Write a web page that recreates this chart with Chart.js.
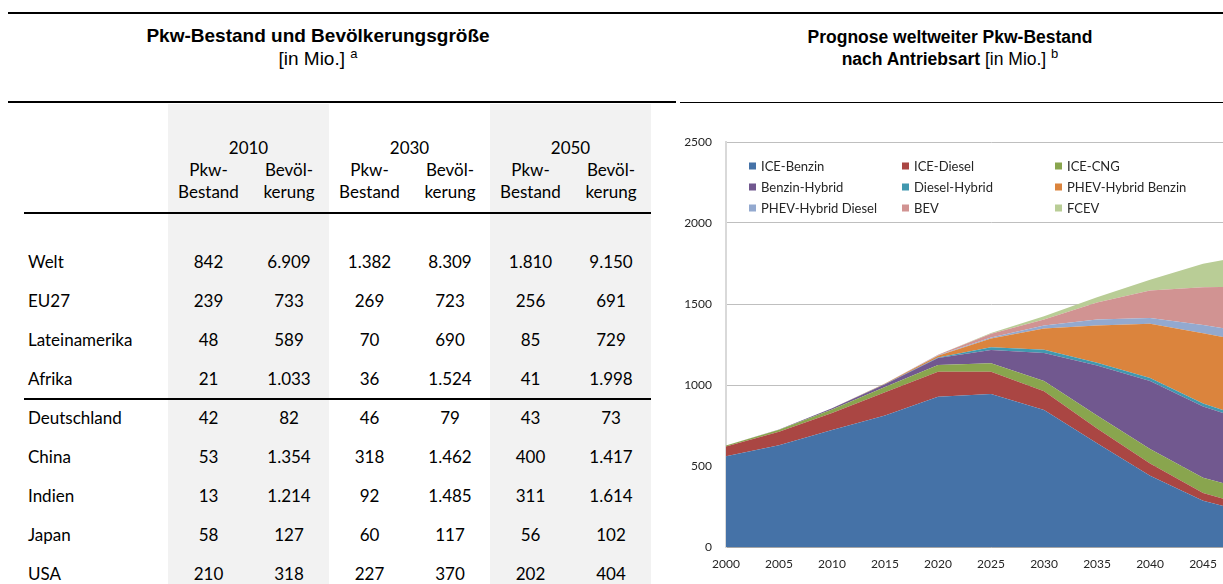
<!DOCTYPE html>
<html lang="de">
<head>
<meta charset="utf-8">
<title>Pkw-Bestand und Prognose nach Antriebsart</title>
<script src="https://cdn.jsdelivr.net/npm/chart.js@4.4.0/dist/chart.umd.min.js"></script>
<style>
  html, body { margin: 0; padding: 0; background: #fff; }
  body { width: 1223px; height: 584px; overflow: hidden; position: relative; font-family: Lato, sans-serif; color: #000; }
  .rule { position: absolute; background: #000; }
  .shade { position: absolute; background: #f2f2f2; }
  .title { position: absolute; font-family: "Liberation Sans", Arial, sans-serif; line-height: 23px; text-align: center; }
  .title sup { font-size: 13px; line-height: 0; vertical-align: 7px; }
  .cell { position: absolute; width: 81px; text-align: center; font-size: 17px; line-height: 22px; white-space: nowrap; }
  .label { position: absolute; font-size: 17px; line-height: 22px; white-space: nowrap; }
  #chartBox { position: absolute; left: 680px; top: 104px; width: 600px; height: 480px; }
</style>
</head>
<body>

<div class="rule" style="left:8px; top:12px; width:1215px; height:2px;"></div>
<div class="title" style="left:8px; top:24px; width:620px; font-size:19px;"><b>Pkw-Bestand und Bevölkerungsgröße</b><br>[in Mio.] <sup>a</sup></div>
<div class="title" style="left:680px; top:26px; width:540px; font-size:17.5px; line-height:22px;"><b>Prognose weltweiter Pkw-Bestand</b><br><b>nach Antriebsart</b> [in Mio.] <sup>b</sup></div>
<div class="rule" style="left:8px; top:101px; width:668px; height:2px;"></div>
<div class="rule" style="left:680px; top:102px; width:543px; height:1px;"></div>

<div id="table"></div>

<div id="chartBox"><canvas id="stockChart" width="600" height="480"></canvas></div>

<script>
// table: passenger cars and population per region
const tableYears = ["2010", "2030", "2050"];
const regions = ["Welt", "EU27", "Lateinamerika", "Afrika", "Deutschland", "China", "Indien", "Japan", "USA"];
const pkw2010 = ["842", "239", "48", "21", "42", "53", "13", "58", "210"];
const bev2010 = ["6.909", "733", "589", "1.033", "82", "1.354", "1.214", "127", "318"];
const pkw2030 = ["1.382", "269", "70", "36", "46", "318", "92", "60", "227"];
const bev2030 = ["8.309", "723", "690", "1.524", "79", "1.462", "1.485", "117", "370"];
const pkw2050 = ["1.810", "256", "85", "41", "43", "400", "311", "56", "202"];
const bev2050 = ["9.150", "691", "729", "1.998", "73", "1.417", "1.614", "102", "404"];

// chart: world car stock forecast by drive type
const years = ["2000", "2005", "2010", "2015", "2020", "2025", "2030", "2035", "2040", "2045", "2050"];
const iceBenzin = [560, 628, 722, 812, 928, 944, 845, 640, 440, 285, 200];
const iceDiesel = [60, 84, 105, 144, 154, 138, 117, 92, 75, 48, 40];
const iceCng = [6, 12, 22, 32, 42, 52, 63, 80, 90, 95, 100];
const benzinHybrid = [0, 2, 8, 16, 42, 82, 172, 308, 420, 440, 420];
const dieselHybrid = [0, 0, 0, 2, 4, 17, 21, 18, 18, 18, 18];
const phevBenzin = [0, 0, 0, 3, 11, 54, 130, 230, 335, 434, 480];
const phevDiesel = [0, 0, 0, 0, 2, 6, 20, 36, 35, 50, 60];
const bev = [0, 0, 0, 1, 3, 24, 36, 105, 170, 234, 290];
const fcev = [0, 0, 0, 0, 1, 4, 20, 32, 67, 144, 200];

const seriesNames = ["ICE-Benzin", "ICE-Diesel", "ICE-CNG", "Benzin-Hybrid", "Diesel-Hybrid",
  "PHEV-Hybrid Benzin", "PHEV-Hybrid Diesel", "BEV", "FCEV"];
const seriesColors = ["#4572a7", "#aa4643", "#89a54e", "#71588f", "#4198af",
  "#db843d", "#93a9cf", "#d19392", "#b9cd96"];

// ---- table ----
const table = document.getElementById("table");
const colLeft = 168;
const colWidth = 80.5;
const rowTops = [262, 301, 340, 379, 418, 457, 496, 535, 574];

function addDiv(cls, text, left, centerY, extra) {
  const d = document.createElement("div");
  d.className = cls;
  d.textContent = text;
  d.style.left = left + "px";
  d.style.top = (centerY - 11) + "px";
  if (extra) Object.assign(d.style, extra);
  table.appendChild(d);
  return d;
}

function addRule(top) {
  const r = document.createElement("div");
  r.className = "rule";
  Object.assign(r.style, { left: "24px", top: top + "px", width: "627px", height: "2px" });
  table.appendChild(r);
}

// grey background for the 2010 and 2050 blocks
[0, 2].forEach((block) => {
  const s = document.createElement("div");
  s.className = "shade";
  s.style.left = (colLeft + block * 2 * colWidth) + "px";
  s.style.top = "104px";
  s.style.width = (2 * colWidth) + "px";
  s.style.height = "480px";
  table.appendChild(s);
});

tableYears.forEach((y, i) => {
  const x = colLeft + i * 2 * colWidth;
  addDiv("cell", y, x, 148, { width: (2 * colWidth) + "px" });
  addDiv("cell", "Pkw-", x, 170);
  addDiv("cell", "Bevöl-", x + colWidth, 170);
  addDiv("cell", "Bestand", x, 192);
  addDiv("cell", "kerung", x + colWidth, 192);
});

addRule(212);
addRule(398);

const columns = [pkw2010, bev2010, pkw2030, bev2030, pkw2050, bev2050];
regions.forEach((name, r) => {
  const cy = rowTops[r];
  addDiv("label", name, 28, cy);
  columns.forEach((col, c) => {
    addDiv("cell", col[r], colLeft + c * colWidth, cy);
  });
});

// ---- chart ----
const seriesData = [iceBenzin, iceDiesel, iceCng, benzinHybrid, dieselHybrid,
  phevBenzin, phevDiesel, bev, fcev];

// legend in three columns inside the plot area
const gridLegend = {
  id: "gridLegend",
  afterDatasetsDraw(chart) {
    const ctx = chart.ctx;
    const area = chart.chartArea;
    const colX = [23, 176, 329];
    const rowY = [24, 45, 66];
    ctx.save();
    ctx.font = "13px Lato";
    ctx.textBaseline = "middle";
    chart.data.datasets.forEach((ds, i) => {
      const x = area.left + colX[i % 3];
      const y = area.top + rowY[Math.floor(i / 3)];
      ctx.fillStyle = ds.backgroundColor;
      ctx.fillRect(x, y - 3.5, 7, 7);
      ctx.fillStyle = "#262626";
      ctx.fillText(ds.label, x + 12, y + 0.5);
    });
    ctx.restore();
  },
};

Chart.defaults.font.family = "Lato";

new Chart(document.getElementById("stockChart"), {
  type: "line",
  data: {
    labels: years,
    datasets: seriesData.map((d, i) => ({
      label: seriesNames[i],
      data: d,
      backgroundColor: seriesColors[i],
      borderColor: seriesColors[i],
      borderWidth: 0,
      pointRadius: 0,
      tension: 0,
      fill: i === 0 ? "origin" : "-1",
    })),
  },
  options: {
    responsive: false,
    animation: false,
    devicePixelRatio: 1,
    layout: { padding: { top: 38, right: 14, bottom: 9, left: 0 } },
    plugins: {
      legend: { display: false },
      tooltip: { enabled: false },
    },
    scales: {
      x: {
        type: "category",
        offset: false,
        grid: { display: false, drawTicks: false },
        border: { display: true, color: "#a6a6a6", width: 1 },
        ticks: { autoSkip: false, maxRotation: 0, padding: 10, color: "#262626", font: { size: 12 } },
        afterFit: (scale) => { scale.height = 28; },
      },
      y: {
        stacked: true,
        min: 0,
        max: 2500,
        grid: { color: "#bfbfbf", lineWidth: 1, drawTicks: false },
        border: { display: true, color: "#d9d9d9", width: 2 },
        ticks: {
          stepSize: 500,
          padding: 14,
          color: "#262626",
          font: { size: 12 },
          callback: (v) => String(v),
        },
        afterFit: (scale) => { scale.width = 46; },
      },
    },
  },
  plugins: [gridLegend],
});
</script>
</body>
</html>
